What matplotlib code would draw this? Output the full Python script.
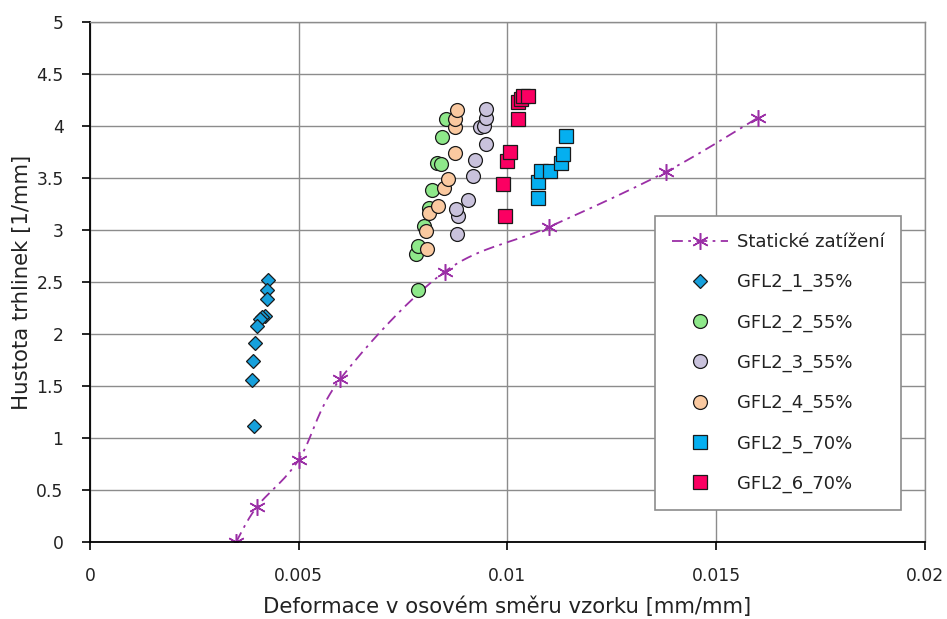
import numpy as np
import matplotlib
matplotlib.use("Agg")
import matplotlib.pyplot as plt

plt.rcParams['font.family'] = ['DejaVu Sans']

# Static loading curve
static_x = [0.0035, 0.0040, 0.0050, 0.0060, 0.0085, 0.0110, 0.0138, 0.0160]
static_y = [0.00, 0.34, 0.79, 1.57, 2.60, 3.03, 3.56, 4.08]

# Cyclic specimens
gfl1_x = [0.00427, 0.00424, 0.00424, 0.00420, 0.00412, 0.00408, 0.00400, 0.00395, 0.00390, 0.00388, 0.00392]
gfl1_y = [2.52, 2.42, 2.34, 2.17, 2.16, 2.14, 2.08, 1.91, 1.74, 1.56, 1.12]

gfl2_x = [0.00785, 0.00780, 0.00786, 0.00800, 0.00812, 0.00820, 0.00832, 0.00840, 0.00842, 0.00852]
gfl2_y = [2.42, 2.77, 2.85, 3.04, 3.21, 3.385, 3.64, 3.63, 3.89, 4.07]

gfl3_x = [0.00878, 0.00881, 0.00877, 0.00905, 0.00917, 0.00921, 0.00948, 0.00935, 0.00943, 0.00949, 0.00949]
gfl3_y = [2.96, 3.13, 3.20, 3.29, 3.52, 3.67, 3.83, 3.99, 4.00, 4.08, 4.16]

gfl4_x = [0.00808, 0.00804, 0.00812, 0.00834, 0.00848, 0.00857, 0.00874, 0.00875, 0.00875, 0.00878]
gfl4_y = [2.82, 2.99, 3.16, 3.23, 3.40, 3.49, 3.74, 3.99, 4.07, 4.15]

gfl5_x = [0.01074, 0.01074, 0.01080, 0.01102, 0.01129, 0.01133, 0.01139]
gfl5_y = [3.31, 3.46, 3.565, 3.565, 3.64, 3.735, 3.90]

gfl6_x = [0.00993, 0.00990, 0.00998, 0.01006, 0.01026, 0.01025, 0.01032, 0.01038, 0.01050]
gfl6_y = [3.13, 3.44, 3.665, 3.75, 4.07, 4.23, 4.26, 4.29, 4.29]

series_labels = ["GFL2_1_35%", "GFL2_2_55%", "GFL2_3_55%", "GFL2_4_55%", "GFL2_5_70%", "GFL2_6_70%"]
static_label = "Statické zatížení"

XMAX, YMAX = 0.02, 5.0


def smooth_curve(xs, ys, n=40):
    """Cardinal (Catmull-Rom) Bezier smoothing in normalised axis space."""
    sx, sy = 835.0 / XMAX, 520.0 / YMAX
    p = np.column_stack([np.asarray(xs) * sx, np.asarray(ys) * sy])
    pts = np.vstack([p[0], p, p[-1]])
    out = [p[0]]
    idx = [0]
    t = np.linspace(0, 1, n + 1)[1:, None]
    for i in range(1, len(pts) - 2):
        p0, p1, p2, p3 = pts[i - 1], pts[i], pts[i + 1], pts[i + 2]
        c1 = p1 + (p2 - p0) / 6.0
        c2 = p2 - (p3 - p1) / 6.0
        seg = ((1 - t) ** 3) * p1 + 3 * ((1 - t) ** 2) * t * c1 + 3 * (1 - t) * t ** 2 * c2 + t ** 3 * p2
        out.extend(seg)
        idx.append(len(out) - 1)
    out = np.array(out)
    return out[:, 0] / sx, out[:, 1] / sy, idx


fig = plt.figure(figsize=(9.47, 6.19), dpi=100)
ax = fig.add_axes([0.0950, 0.1244, 0.8818, 0.8401])

grid_c = "#8c8c8c"
ax.set_axisbelow(True)
ax.grid(True, color=grid_c, linewidth=1.0)

cx, cy, midx = smooth_curve(static_x, static_y)
ax.plot(cx, cy, color="#9b2fa6", linewidth=1.3, dashes=(6, 3, 1.5, 3),
        marker=(6, 2, 0), markevery=midx, markersize=12, markeredgewidth=1.1,
        markeredgecolor="#9b2fa6", label=static_label, zorder=2)

edge = "#1a1a1a"
ax.plot(gfl1_x, gfl1_y, linestyle="none", marker="D", markersize=7.2, markerfacecolor="#16a0dc",
        markeredgecolor=edge, markeredgewidth=0.9, label=series_labels[0], zorder=3)
ax.plot(gfl2_x, gfl2_y, linestyle="none", marker="o", markersize=10, markerfacecolor="#8ee88a",
        markeredgecolor=edge, markeredgewidth=0.9, label=series_labels[1], zorder=3)
ax.plot(gfl3_x, gfl3_y, linestyle="none", marker="o", markersize=10, markerfacecolor="#c9c2dc",
        markeredgecolor=edge, markeredgewidth=0.9, label=series_labels[2], zorder=3)
ax.plot(gfl4_x, gfl4_y, linestyle="none", marker="o", markersize=10, markerfacecolor="#fac9a0",
        markeredgecolor=edge, markeredgewidth=0.9, label=series_labels[3], zorder=3)
ax.plot(gfl5_x, gfl5_y, linestyle="none", marker="s", markersize=9.5, markerfacecolor="#05aff0",
        markeredgecolor=edge, markeredgewidth=0.9, label=series_labels[4], zorder=3)
ax.plot(gfl6_x, gfl6_y, linestyle="none", marker="s", markersize=9.5, markerfacecolor="#fb0062",
        markeredgecolor=edge, markeredgewidth=0.9, label=series_labels[5], zorder=3)

ax.set_xlim(0, XMAX)
ax.set_ylim(0, YMAX)
ax.set_xticks([0, 0.005, 0.01, 0.015, 0.02])
ax.set_xticklabels(["0", "0.005", "0.01", "0.015", "0.02"])
ax.set_yticks(np.arange(0, 5.01, 0.5))
ax.set_yticklabels(["0", "0.5", "1", "1.5", "2", "2.5", "3", "3.5", "4", "4.5", "5"])

for s in ("left", "bottom"):
    ax.spines[s].set_color("black")
    ax.spines[s].set_linewidth(1.3)
for s in ("top", "right"):
    ax.spines[s].set_color(grid_c)
    ax.spines[s].set_linewidth(1.0)

ax.tick_params(axis="both", direction="out", length=6, width=1.2, color="black",
               labelsize=12.3, labelcolor="#222222")
ax.tick_params(axis="y", pad=13)
ax.tick_params(axis="x", pad=12)

ax.set_xlabel("Deformace v osovém směru vzorku [mm/mm]", fontsize=15.3, color="#222222", labelpad=8)
ax.set_ylabel("Hustota trhlinek [1/mm]", fontsize=15.3, color="#222222", labelpad=3)

leg = ax.legend(loc="upper left", bbox_to_anchor=(0.677, 0.627), fontsize=13,
                frameon=True, fancybox=False, framealpha=1, edgecolor=grid_c,
                handlelength=3.1, handletextpad=0.45, labelspacing=1.22,
                borderpad=0.95, borderaxespad=0)
leg.get_frame().set_linewidth(1.2)
for t in leg.get_texts():
    t.set_color("#222222")

fig.savefig("out.png", dpi=100)
